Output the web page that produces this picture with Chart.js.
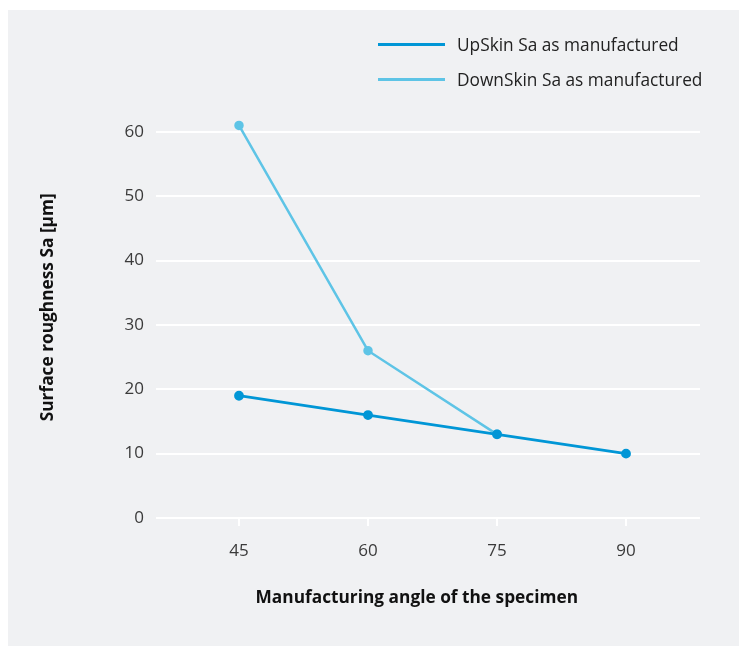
<!DOCTYPE html>
<html>
<head>
<meta charset="utf-8">
<script src="https://cdn.jsdelivr.net/npm/chart.js@4/dist/chart.umd.min.js"></script>
<style>
  body { margin: 0; background: #fff; font-family: "Open Sans", sans-serif; }
  #wrap { position: relative; width: 739px; height: 646px; }
  #panel { position: absolute; left: 8px; top: 10px; right: 0; bottom: 0; background: #f0f1f3; }
  canvas { position: absolute; left: 0; top: 0; }
  #legend { position: absolute; left: 378px; top: 27px; }
  .item { display: flex; align-items: center; height: 35px; font-size: 17.3px; color: #222; }
  .swatch { width: 67px; height: 3px; margin-right: 12px; }
</style>
</head>
<body>
<div id="wrap">
  <div id="panel"></div>
  <canvas id="chart" width="739" height="646"></canvas>
  <div id="legend"></div>
</div>
<script>
// manufacturing angle (deg)
const angles = [45, 60, 75, 90];
const upSkin = [19, 16, 13, 10];
const downSkin = [61, 26, 13, null];
const yTicks = [0, 10, 20, 30, 40, 50, 60];

const seriesNames = ["UpSkin Sa as manufactured", "DownSkin Sa as manufactured"];
const seriesColors = ["#0096d6", "#5ec4e6"];

const toPoints = (vals) => angles.map((a, i) => ({ x: a, y: vals[i] }));

const chartData = {
  datasets: [upSkin, downSkin].map((vals, i) => ({
    label: seriesNames[i],
    data: toPoints(vals),
    borderColor: seriesColors[i],
    backgroundColor: seriesColors[i],
    borderWidth: i === 0 ? 2.8 : 2.5,
    pointRadius: 3.5,
    pointHoverRadius: 3.5,
    tension: 0,
  })),
};

const tickFont = { family: "Open Sans", size: 17 };
const titleFont = { family: "Open Sans", size: 17.3, weight: "bold" };
const nb = "\u00a0";

const chart = new Chart(document.getElementById("chart").getContext("2d"), {
  type: "line",
  data: chartData,
  options: {
    responsive: false,
    animation: false,
    layout: { padding: { top: 119, right: 39, bottom: 0, left: 0 } },
    plugins: { legend: { display: false }, tooltip: { enabled: false } },
    scales: {
      x: {
        type: "linear",
        min: 35.35,
        max: 98.6,
        afterBuildTicks: (scale) => { scale.ticks = angles.map((v) => ({ value: v })); },
        afterFit: (scale) => { scale.height = 128; },
        grid: { drawOnChartArea: false, color: "#ffffff", lineWidth: 2, tickLength: 8 },
        border: { display: false },
        ticks: { font: tickFont, color: "#3a3a3a", padding: 15 },
        // trailing spaces nudge the title a bit left, like the original
        title: { display: true, text: "Manufacturing angle of the specimen" + nb.repeat(5), font: titleFont, color: "#111", padding: { bottom: 38 } },
      },
      y: {
        min: 0,
        max: 62,
        afterBuildTicks: (scale) => { scale.ticks = yTicks.map((v) => ({ value: v })); },
        afterFit: (scale) => { scale.width = 156; },
        grid: { color: "#ffffff", lineWidth: 2, drawTicks: false },
        border: { display: false },
        ticks: { font: tickFont, color: "#3a3a3a", padding: 12 },
        title: { display: true, text: nb.repeat(5) + "Surface roughness Sa [µm]", font: titleFont, color: "#111", padding: { top: 38 } },
      },
    },
  },
});

// legend as html
const legend = document.getElementById("legend");
chart.data.datasets.forEach((ds) => {
  const row = document.createElement("div");
  row.className = "item";
  const sw = document.createElement("span");
  sw.className = "swatch";
  sw.style.background = ds.borderColor;
  row.appendChild(sw);
  row.appendChild(document.createTextNode(ds.label));
  legend.appendChild(row);
});
</script>
</body>
</html>
